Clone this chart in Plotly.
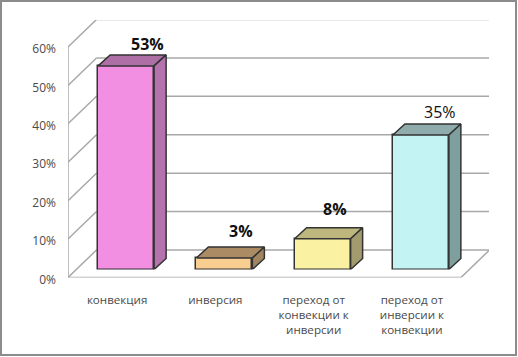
import plotly.graph_objects as go

W, H = 518, 357

# ---- data ----
categories = ["конвекция", "инверсия", "переход от<br>конвекции к<br>инверсии", "переход от<br>инверсии к<br>конвекции"]
values = [53, 3, 8, 35]
value_labels = ["53%", "3%", "8%", "35%"]
y_ticks = [0, 10, 20, 30, 40, 50, 60]
y_tick_labels = ["0%", "10%", "20%", "30%", "40%", "50%", "60%"]

# ---- styles ----
front_colors = ["#F28FE2", "#F8CF90", "#FBF1A2", "#C4F3F3"]
side_colors = ["#B573AE", "#A08660", "#A39B6E", "#7F9F9F"]
top_colors = ["#AD6FA6", "#AB8B63", "#BDB67D", "#90ABAB"]
label_dx = [9, 5, 0, 7]
label_gap = [2, 7, 10, 3]
label_weight = [700, 700, 700, 500]

PX_X = 98.25          # px per category
PX_Y = 230.5 / 60     # px per percent
X0, X1 = 68, 489
Y0, Y1 = 277.5, 20
WALL_DX = 28.5 / PX_X
WALL_DY = 27.5 / PX_Y
BAR_DX = 12 / PX_X
BAR_DY = 11 / PX_Y
BAR_W = 56 / PX_X
x_range = [-0.5, -0.5 + (X1 - X0) / PX_X]
y_range = [0, (Y0 - Y1) / PX_Y]
FLOOR_R = 3.5


def dom_x(a, b):
    return [a / W, b / W]


def dom_y(a, b):
    return [1 - a / H, 1 - b / H]


fig = go.Figure()
GRID = "#A8A8A8"


def wall(xs, ys):
    fig.add_trace(go.Scatter(x=xs, y=ys, mode="lines", line=dict(color=GRID, width=1.5),
                             hoverinfo="skip", showlegend=False, xaxis="x", yaxis="y"))


for t in y_ticks:
    wall([-0.5, -0.5 + WALL_DX], [t, t + WALL_DY])
    wall([-0.5 + WALL_DX, FLOOR_R + WALL_DX], [t + WALL_DY, t + WALL_DY])
wall([-0.5, -0.5], [y_ticks[0], y_ticks[-1]])
wall([-0.5, FLOOR_R], [0, 0])
wall([FLOOR_R, FLOOR_R + WALL_DX], [0, WALL_DY])

# 3-D faces derived from the values
for i, v in enumerate(values):
    l, r = i - BAR_W / 2, i + BAR_W / 2
    fig.add_trace(go.Scatter(
        x=[l, r, r + BAR_DX, l + BAR_DX, l], y=[v, v, v + BAR_DY, v + BAR_DY, v],
        mode="lines", fill="toself", fillcolor=top_colors[i], line=dict(color="#333333", width=1.5),
        hoverinfo="skip", showlegend=False, xaxis="x2", yaxis="y2"))
    fig.add_trace(go.Scatter(
        x=[r, r + BAR_DX, r + BAR_DX, r, r], y=[0, BAR_DY, v + BAR_DY, v, 0],
        mode="lines", fill="toself", fillcolor=side_colors[i], line=dict(color="#333333", width=1.5),
        hoverinfo="skip", showlegend=False, xaxis="x2", yaxis="y2"))

fig.add_trace(go.Bar(x=list(range(len(values))), y=values, width=BAR_W,
                     marker=dict(color=front_colors, line=dict(color="#333333", width=1.5)),
                     showlegend=False, xaxis="x2", yaxis="y2"))

for i, v in enumerate(values):
    fig.add_annotation(x=i + BAR_DX, y=v + BAR_DY, xref="x2", yref="y2", text=value_labels[i],
                       showarrow=False, xanchor="center", yanchor="bottom",
                       xshift=label_dx[i], yshift=label_gap[i] - 4,
                       font=dict(family="Open Sans", size=16, color="#111111", weight=label_weight[i]))

fig.add_shape(type="rect", xref="paper", yref="paper", x0=1 / W, x1=1 - 2 / W, y0=2 / H, y1=1 - 1 / H,
              line=dict(color="#8C8C8C", width=2), fillcolor="rgba(0,0,0,0)")

axis_font = dict(family="Open Sans", size=11.6, color="#4A4A4A")
fig.update_layout(
    width=W, height=H, margin=dict(l=0, r=0, t=0, b=0, pad=0), autosize=False,
    paper_bgcolor="white", plot_bgcolor="rgba(0,0,0,0)", showlegend=False,
    bargap=0,
    xaxis=dict(domain=dom_x(X0, X1), range=x_range, showgrid=False, zeroline=False, showline=False,
               tickvals=list(range(len(categories))), ticktext=categories, tickfont=axis_font,
               ticks="", ticklabelstandoff=14, tickangle=0, automargin=False),
    yaxis=dict(domain=dom_y(Y0, Y1), range=y_range, showgrid=False, zeroline=False, showline=False,
               tickvals=y_ticks, ticktext=y_tick_labels, tickfont=dict(family="Open Sans", size=12, color="#4A4A4A"),
               ticks="", ticklabelstandoff=11, ticklabelshift=2, automargin=False),
    xaxis2=dict(domain=dom_x(X0 + 9, X1 + 9), range=x_range, visible=False, anchor="y2", automargin=False),
    yaxis2=dict(domain=dom_y(Y0 - 8, Y1 - 8), range=y_range, visible=False, anchor="x2", automargin=False),
)

fig.write_html("out.html", config={"displayModeBar": False, "responsive": False},
               default_width="518px", default_height="357px",
               post_script="document.body.style.margin='0';document.documentElement.style.overflow='hidden';")
